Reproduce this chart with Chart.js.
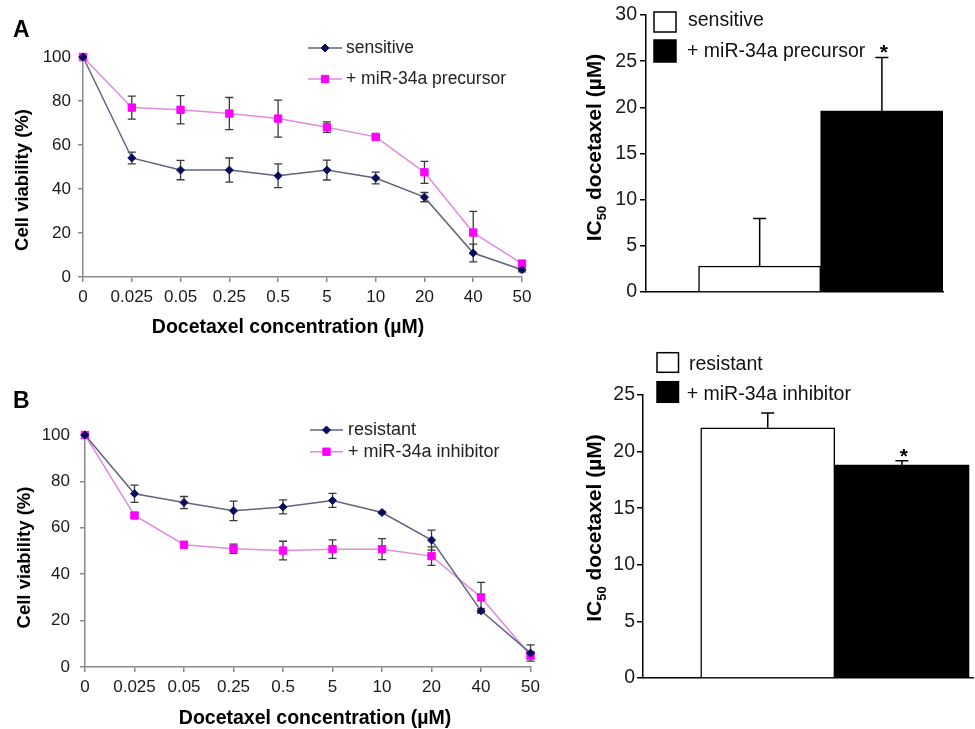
<!DOCTYPE html>
<html><head><meta charset="utf-8">
<script src="https://cdn.jsdelivr.net/npm/chart.js@4.4.1/dist/chart.umd.min.js"></script>
<style>
html,body{margin:0;padding:0;background:#fff;}
body{width:975px;height:729px;position:relative;overflow:hidden;}
canvas{position:absolute;}
</style></head><body>
<canvas id="lineA" width="545" height="350" style="left:0px;top:0px"></canvas>
<canvas id="barA" width="430" height="330" style="left:545px;top:0px"></canvas>
<canvas id="lineB" width="545" height="369" style="left:0px;top:360px"></canvas>
<canvas id="barB" width="430" height="399" style="left:545px;top:330px"></canvas>
<script>
// ---------------- data ----------------
const concentrations = ['0','0.025','0.05','0.25','0.5','5','10','20','40','50'];
const viabilityTicks = [0,20,40,60,80,100];

const sensitiveViability = [100,54.1,48.6,48.6,46,48.6,45,36.3,10.9,3.3];
const sensitiveErr       = [0,2.7,4.4,5.5,5.4,4.5,2.7,2.1,4,1];
const precursorViability = [100,77,76,74.3,72,68.1,63.7,47.6,20.2,6.1];
const precursorErr       = [0,5.2,6.4,7.3,8.4,2.4,1,5,9.6,1];

const resistantViability = [100,74.7,70.9,67.3,69,71.8,66.6,54.7,24.2,6];
const resistantErr       = [0,3.7,2.6,4.2,3,3,0.5,4.3,1,3.5];
const inhibitorViability = [100,65.3,52.7,51,50.2,50.8,50.8,47.8,30,5];
const inhibitorErr       = [0,1,1.2,2,4,4,4.5,4,6.5,1.5];

const ic50GroupsA = ['sensitive','+ miR-34a precursor'];
const ic50ValuesA = [2.82,19.6];
const ic50ErrA    = [5.14,5.8];
const ic50TicksA  = [0,5,10,15,20,25,30];

const ic50GroupsB = ['resistant','+ miR-34a inhibitor'];
const ic50ValuesB = [22.1,18.8];
const ic50ErrB    = [1.3,0.4];
const ic50TicksB  = [0,5,10,15,20,25];

// ---------------- styling ----------------
const FONT = "'Liberation Sans', Arial, Helvetica, sans-serif";
const AXIS_GRAY = '#8a8a8a';
const TICK_COLOR = '#1a1a1a';
const NAVY_LINE = '#62627f';
const NAVY_MARK = '#0b0b5c';
const PINK_LINE = '#e08ce0';
const PINK_MARK = '#ff00ff';

function makeErrorBars(o){
  const draw = (chart) => {
    const ctx = chart.ctx, ys = chart.scales.y;
    chart.data.datasets.forEach((ds, i) => {
      if (!ds.errors) return;
      const meta = chart.getDatasetMeta(i);
      ctx.save();
      ctx.strokeStyle = o.color; ctx.lineWidth = o.width;
      meta.data.forEach((el, j) => {
        const e = ds.errors[j]; if (!e) return;
        const raw = ds.data[j]; const v = (typeof raw === 'object') ? raw.y : raw;
        const x = el.x;
        const yt = ys.getPixelForValue(v + e);
        const yb = o.upOnly ? ys.getPixelForValue(v) : ys.getPixelForValue(v - e);
        ctx.beginPath();
        ctx.moveTo(x, yt); ctx.lineTo(x, yb);
        ctx.moveTo(x - o.cap, yt); ctx.lineTo(x + o.cap, yt);
        if (!o.upOnly) { ctx.moveTo(x - o.cap, yb); ctx.lineTo(x + o.cap, yb); }
        ctx.stroke();
      });
      ctx.restore();
    });
  };
  return o.before ? {id:'errorBars', beforeDatasetsDraw: draw} : {id:'errorBars', afterDatasetsDraw: draw};
}
function makeDeco(fn){ return {id:'deco', afterDraw: (chart) => fn(chart, chart.ctx)}; }

function text(ctx, s, x, y, size, bold, align, base, rot, color){
  ctx.save();
  ctx.font = (bold ? 'bold ' : '') + size + 'px ' + FONT;
  ctx.fillStyle = color || '#111';
  ctx.textAlign = align || 'left';
  ctx.textBaseline = base || 'middle';
  ctx.translate(x, y);
  if (rot) ctx.rotate(rot);
  ctx.fillText(s, 0, 0);
  ctx.restore();
}
function marker(ctx, style, r, x, y, color){
  ctx.save(); ctx.fillStyle = color; ctx.strokeStyle = color; ctx.lineWidth = 1;
  ctx.beginPath();
  if (style === 'rectRot') { ctx.moveTo(x, y - r); ctx.lineTo(x + r, y); ctx.lineTo(x, y + r); ctx.lineTo(x - r, y); ctx.closePath(); }
  else { const s = r * Math.SQRT1_2; ctx.rect(x - s, y - s, 2 * s, 2 * s); }
  ctx.fill(); ctx.stroke(); ctx.restore();
}
function lineLegend(chart, ctx, x0, x1, tx, rows, size){
  chart.data.datasets.forEach((ds, i) => {
    const y = rows[i];
    ctx.save(); ctx.strokeStyle = ds.borderColor; ctx.lineWidth = ds.borderWidth;
    ctx.beginPath(); ctx.moveTo(x0, y); ctx.lineTo(x1, y); ctx.stroke(); ctx.restore();
    marker(ctx, ds.pointStyle, ds.pointRadius, (x0 + x1) / 2, y, ds.pointBackgroundColor);
    text(ctx, ds.label, tx, y, size, false, 'left', 'middle', 0, '#222');
  });
}
function barLegend(chart, ctx, bx, bw, boxes, tx, ty, size){
  chart.data.datasets.forEach((ds, i) => {
    const [t, b] = boxes[i];
    ctx.save();
    ctx.fillStyle = ds.backgroundColor; ctx.fillRect(bx, t, bw, b - t);
    ctx.strokeStyle = '#000'; ctx.lineWidth = 1.5; ctx.strokeRect(bx, t, bw, b - t);
    ctx.restore();
    text(ctx, ds.label, tx[i], ty[i], size, false, 'left', 'middle', 0, '#111');
  });
}
function ic50Title(ctx, cx, cy, size){
  ctx.save();
  ctx.translate(cx, cy); ctx.rotate(-Math.PI / 2);
  const big = 'bold ' + size + 'px ' + FONT, small = 'bold ' + Math.round(size * 0.62) + 'px ' + FONT;
  ctx.font = big; const w1 = ctx.measureText('IC').width; const w3 = ctx.measureText(' docetaxel (\u00b5M)').width;
  ctx.font = small; const w2 = ctx.measureText('50').width;
  let x = -(w1 + w2 + w3) / 2; const base = size * 0.36;
  ctx.fillStyle = '#000'; ctx.textBaseline = 'alphabetic'; ctx.textAlign = 'left';
  ctx.font = big; ctx.fillText('IC', x, base); x += w1;
  ctx.font = small; ctx.fillText('50', x, base + size * 0.24); x += w2;
  ctx.font = big; ctx.fillText(' docetaxel (\u00b5M)', x, base);
  ctx.restore();
}
function stars(chart, ctx){
  const ys = chart.scales.y;
  chart.data.datasets.forEach((ds, i) => {
    if (!ds.star) return;
    const el = chart.getDatasetMeta(i).data[0];
    const top = ys.getPixelForValue(ds.data[0].y + ds.errors[0]);
    text(ctx, '*', el.x + 2, top + 2, 21, true, 'center', 'alphabetic', 0, '#000');
  });
}

function lineDataset(label, values, errs, lineColor, markColor, style, radius){
  return { label, data: values, errors: errs, borderColor: lineColor, borderWidth: 1.5,
    pointStyle: style, pointRadius: radius, pointBackgroundColor: markColor, pointBorderColor: markColor,
    pointBorderWidth: 1, tension: 0, fill: false, clip: false };
}

function lineChart(id, datasets, L, deco){
  const tickFont = {family: FONT, size: 17};
  const gridOpts = {display: true, drawOnChartArea: false, drawTicks: true, tickLength: 5, color: AXIS_GRAY, lineWidth: 1.5};
  const borderOpts = {display: true, color: AXIS_GRAY, width: 1.5};
  return new Chart(document.getElementById(id), {
    type: 'line',
    data: {labels: concentrations, datasets},
    options: {
      responsive: false, animation: false, devicePixelRatio: 1,
      layout: {padding: L.pad},
      plugins: {legend: {display: false}, tooltip: {enabled: false}},
      scales: {
        x: {type: 'category', offset: false, grid: gridOpts, border: borderOpts,
            ticks: {autoSkip: false, maxRotation: 0, minRotation: 0, padding: L.xPad, color: TICK_COLOR, font: tickFont},
            afterFit: (s) => { s.height = L.xH; }},
        y: {type: 'linear', min: 0, max: 100, grid: gridOpts, border: borderOpts,
            afterBuildTicks: (s) => { s.ticks = viabilityTicks.map(v => ({value: v})); },
            ticks: {padding: L.yPad, color: TICK_COLOR, font: tickFont},
            afterFit: (s) => { s.width = L.yW; }}
      }
    },
    plugins: [makeErrorBars({color: '#3a3a3a', width: 1.3, cap: 4, upOnly: false, before: true}), makeDeco(deco)]
  });
}

function barChart(id, groups, values, errs, ticksArr, L, deco){
  const datasets = groups.map((g, i) => ({
    label: g, data: [{x: i + 1, y: values[i]}], errors: [errs[i]],
    backgroundColor: i ? '#000000' : '#ffffff', borderColor: '#000000', borderWidth: i ? 0 : 1.5,
    barPercentage: 1, categoryPercentage: 1, grouped: false, star: i === 1
  }));
  const tickFont = {family: FONT, size: 19.5};
  return new Chart(document.getElementById(id), {
    type: 'bar',
    data: {datasets},
    options: {
      responsive: false, animation: false, devicePixelRatio: 1,
      layout: {padding: L.pad},
      plugins: {legend: {display: false}, tooltip: {enabled: false}},
      scales: {
        x: {type: 'linear', offset: false, min: L.xMin, max: L.xMax,
            afterBuildTicks: (s) => { s.ticks = groups.map((g, i) => ({value: i + 1})); },
            ticks: {display: false}, grid: {display: false},
            border: {display: true, color: '#000', width: 1.5},
            afterFit: (s) => { s.height = 2; }},
        y: {type: 'linear', min: 0, max: ticksArr[ticksArr.length - 1],
            afterBuildTicks: (s) => { s.ticks = ticksArr.map(v => ({value: v})); },
            grid: {display: true, drawOnChartArea: false, drawTicks: true, tickLength: 6, color: '#000', lineWidth: 1.5},
            border: {display: true, color: '#000', width: 1.5},
            ticks: {padding: L.yPad, color: TICK_COLOR, font: tickFont},
            afterFit: (s) => { s.width = L.yW; }}
      }
    },
    plugins: [makeErrorBars({color: '#000', width: 1.5, cap: 6.5, upOnly: true, before: false}), makeDeco(deco)]
  });
}

// ---------------- panel A ----------------
lineChart('lineA', [
  lineDataset('sensitive', sensitiveViability, sensitiveErr, NAVY_LINE, NAVY_MARK, 'rectRot', 4),
  lineDataset('+ miR-34a precursor', precursorViability, precursorErr, PINK_LINE, PINK_MARK, 'rect', 5.2)
], {pad: {top: 57, right: 23, bottom: 33, left: 0}, yW: 83, xH: 40, xPad: 5, yPad: 7}, (chart, ctx) => {
  text(ctx, 'A', 13, 37, 23, true, 'left', 'alphabetic', 0, '#000');
  text(ctx, 'Cell viability (%)', 23, 180, 18.5, true, 'center', 'middle', -Math.PI / 2, '#000');
  text(ctx, 'Docetaxel concentration (\u00b5M)', 288, 328, 19.5, true, 'center', 'middle', 0, '#000');
  lineLegend(chart, ctx, 308, 342, 346, [48, 79], 17.5);
});

barChart('barA', ic50GroupsA, ic50ValuesA, ic50ErrA, ic50TicksA,
  {pad: {top: 15, right: 32, bottom: 36, left: 0}, yW: 101, yPad: 3, xMin: 0.07, xMax: 2.5}, (chart, ctx) => {
  ic50Title(ctx, 48, 147.5, 21);
  barLegend(chart, ctx, 109, 22, [[12, 32], [40, 62]], [143, 142], [21, 52], 19.5);
  stars(chart, ctx);
});

// ---------------- panel B ----------------
lineChart('lineB', [
  lineDataset('resistant', resistantViability, resistantErr, NAVY_LINE, NAVY_MARK, 'rectRot', 4),
  lineDataset('+ miR-34a inhibitor', inhibitorViability, inhibitorErr, PINK_LINE, PINK_MARK, 'rect', 5.2)
], {pad: {top: 75, right: 14, bottom: 22, left: 0}, yW: 85, xH: 40, xPad: 5, yPad: 10}, (chart, ctx) => {
  text(ctx, 'B', 13, 48, 23, true, 'left', 'alphabetic', 0, '#000');
  text(ctx, 'Cell viability (%)', 25, 197.5, 18.5, true, 'center', 'middle', -Math.PI / 2, '#000');
  text(ctx, 'Docetaxel concentration (\u00b5M)', 315, 358.3, 19.5, true, 'center', 'middle', 0, '#000');
  lineLegend(chart, ctx, 310, 343, 348, [70, 91.7], 18);
});

barChart('barB', ic50GroupsB, ic50ValuesB, ic50ErrB, ic50TicksB,
  {pad: {top: 65, right: 2, bottom: 49, left: 0}, yW: 98, yPad: 2, xMin: 0.07, xMax: 2.53}, (chart, ctx) => {
  ic50Title(ctx, 48, 198, 21);
  barLegend(chart, ctx, 112, 21.5, [[22.7, 42.3], [51.7, 72.3]], [144, 141.7], [35, 65], 19.5);
  stars(chart, ctx);
});
</script>
</body></html>
